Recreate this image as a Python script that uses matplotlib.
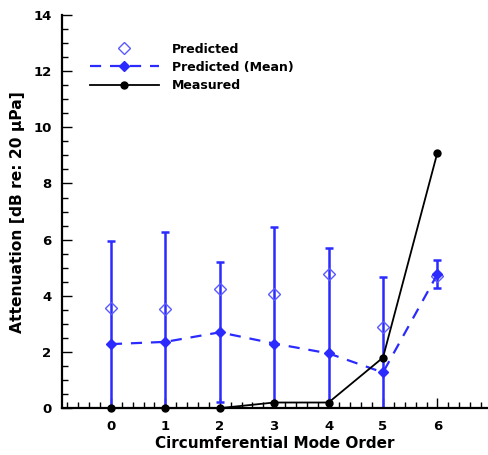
import numpy as np
import matplotlib.pyplot as plt
from matplotlib.ticker import MultipleLocator

plt.rcParams['font.family'] = ['DejaVu Sans']
plt.rcParams['font.weight'] = 'bold'

# Circumferential mode orders
modes = [0, 1, 2, 3, 4, 5, 6]
# Predicted attenuation (individual runs)
predicted = [3.55, 3.52, 4.24, 4.07, 4.77, 2.90, 4.72]
# Predicted mean and its spread
pred_mean = [2.28, 2.36, 2.70, 2.30, 1.95, 1.27, 4.77]
pred_err = [3.67, 3.90, 2.49, 4.16, 3.74, 3.41, 0.49]
# Measured attenuation
measured = [0.0, 0.0, 0.0, 0.2, 0.2, 1.8, 9.1]

blue = '#2b2bff'

fig = plt.figure(figsize=(4.88, 4.55), dpi=100)
ax = fig.add_axes([0.127, 0.103, 0.873, 0.864])

ax.errorbar(modes, pred_mean, yerr=pred_err, fmt='none', ecolor=blue,
            elinewidth=1.8, capsize=3, capthick=1.8, zorder=2)
ax.plot(modes, predicted, linestyle='none', marker='D', markersize=6,
        markerfacecolor='none', markeredgecolor='#5a5aff', markeredgewidth=1.0,
        label='Predicted', zorder=3)
ax.plot(modes, pred_mean, linestyle=(0, (5, 4)), color=blue, linewidth=1.6,
        marker='D', markersize=5, markerfacecolor=blue, markeredgecolor=blue,
        label='Predicted (Mean)', zorder=3)
ax.plot(modes, measured, color='black', linewidth=1.3, marker='o', markersize=5,
        label='Measured', zorder=4, clip_on=False)

ax.set_xlim(-0.9, 6.93)
ax.set_ylim(0, 14)
ax.xaxis.set_major_locator(MultipleLocator(1))
ax.xaxis.set_minor_locator(MultipleLocator(0.2))
ax.yaxis.set_major_locator(MultipleLocator(2))
ax.yaxis.set_minor_locator(MultipleLocator(0.5))

ax.spines['top'].set_visible(False)
ax.spines['right'].set_visible(False)
ax.spines['left'].set_linewidth(1.6)
ax.spines['bottom'].set_linewidth(1.6)
ax.tick_params(which='both', direction='in', width=1.0)
ax.tick_params(which='major', length=7, labelsize=9.5)
ax.tick_params(which='minor', length=4)
ax.tick_params(axis='x', which='major', pad=8.5)
ax.tick_params(axis='y', which='major', pad=7.5)
for lbl in ax.get_xticklabels() + ax.get_yticklabels():
    lbl.set_fontweight('bold')

ax.set_xlabel('Circumferential Mode Order', fontsize=11, fontweight='bold', labelpad=2)
ax.set_ylabel('Attenuation [dB re: 20 \u03bcPa]', fontsize=11.2, fontweight='bold', labelpad=6)

leg = ax.legend(loc='upper left', bbox_to_anchor=(0.066, 0.93), frameon=False,
                borderpad=0, borderaxespad=0, fontsize=9, handlelength=5.5,
                handletextpad=1.05, labelspacing=0.42)

fig.savefig('out.png', dpi=100)
